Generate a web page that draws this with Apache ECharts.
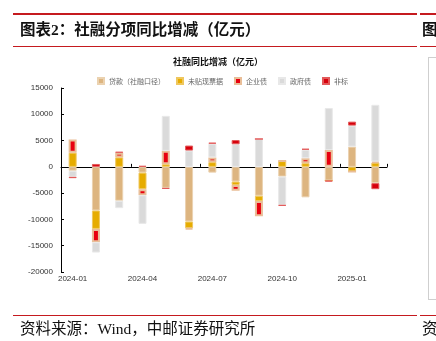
<!DOCTYPE html>
<html><head><meta charset="utf-8">
<script src="https://cdn.jsdelivr.net/npm/echarts@6/dist/echarts.min.js"></script>
<style>html,body{margin:0;padding:0;background:#fff}#c{width:436px;height:341px}</style>
</head><body><div id="c"></div>
<script>
const months = ['2024-01','2024-02','2024-03','2024-04','2024-05','2024-06','2024-07','2024-08','2024-09','2024-10','2024-11','2024-12','2025-01','2025-02'];
const seriesNames = ['贷款（社融口径）','未贴现票据','企业债','政府债','非标'];
const loans      = [-750, -8300, -6450, -1100, -4000, -10400, -1100, -2800, -5500, -1850, -5800, -2600, 3850, -3100];
const bills      = [2700, -3500, 1800, -3150, 500, -1270, 900, -650, -1000, 1100, 700, 0, -900, 800];
const corpBonds  = [2500, -2550, 900, -1150, 2550, -200, 900, -1100, -2900, 0, 950, 3200, 0, 200];
const govBonds   = [-1150, -1950, -1400, -5450, 6650, 3100, 2600, 4300, 5300, -5400, 1600, 8000, 4000, 10800];
const nonStd     = [-250, 550, 150, 200, -200, 950, 200, 800, 0, -150, 200, -200, 750, -1150];
const yTicks = {min: -20000, max: 15000, step: 5000};

const styles = [
  {color:'#DDB580', borderColor:'#EBD2B0', borderWidth:1},
  {color:'#E6AC00', borderColor:'#EFC75E', borderWidth:1},
  {color:'#E8000F', borderColor:'#E9BE98', borderWidth:2},
  {color:'#DADADA', borderColor:'#E8E8E8', borderWidth:1},
  {color:'#D7000C', borderColor:'#E25A5A', borderWidth:1}
];
const values = [loans, bills, corpBonds, govBonds, nonStd];
const red = '#C51A1F';
const cjk = '"Liberation Serif","Noto Sans CJK SC",serif';

const chart = echarts.init(document.getElementById('c'), null, {renderer:'canvas'});
chart.setOption({
  backgroundColor:'#fff',
  animation:false,
  title:{text:'社融同比增减（亿元）', left:'center', top:52, textStyle:{fontSize:9, fontWeight:'bold', color:'#111', fontFamily:'"Noto Sans CJK SC",sans-serif'}},
  legend:{left:92, top:72, itemWidth:6, itemHeight:6, itemGap:11, itemTextGap:4, icon:'rect',
    textStyle:{fontSize:7, color:'#666', fontFamily:'"Noto Sans CJK SC",sans-serif'}, data:seriesNames},
  grid:{left:61, right:49, top:88, height:184},
  xAxis:[
    {type:'category', data:months, axisLine:{onZero:true, lineStyle:{color:'#000', width:1}},
     axisTick:{show:true, inside:true, length:3, interval:function(i){return i%3===0;}, lineStyle:{color:'#000'}},
     axisLabel:{show:false}},
    {type:'category', data:months, position:'bottom', axisLine:{show:false, onZero:false}, axisTick:{show:false},
     axisLabel:{interval:2, fontSize:8, margin:3, color:'#333', fontFamily:'"Liberation Sans",Arial,sans-serif'}}
  ],
  yAxis:{type:'value', min:yTicks.min, max:yTicks.max, interval:yTicks.step,
    axisLine:{show:true, lineStyle:{color:'#000', width:1}},
    axisTick:{show:true, inside:true, length:3, lineStyle:{color:'#000'}},
    splitLine:{show:false},
    axisLabel:{fontSize:8, margin:8, color:'#333', fontFamily:'"Liberation Sans",Arial,sans-serif', formatter:function(v){return String(v);}}},
  series: seriesNames.map((n,i)=>({name:n, type:'bar', stack:'s', barWidth:8, xAxisIndex:0,
    itemStyle:styles[i], data:values[i]})),
  graphic:[
    {type:'line', shape:{x1:13,y1:14,x2:417,y2:14}, style:{stroke:red, lineWidth:2}},
    {type:'line', shape:{x1:420,y1:14,x2:436,y2:14}, style:{stroke:red, lineWidth:2}},
    {type:'line', shape:{x1:13,y1:46.5,x2:417,y2:46.5}, style:{stroke:red, lineWidth:1}},
    {type:'line', shape:{x1:420,y1:46.5,x2:436,y2:46.5}, style:{stroke:red, lineWidth:1}},
    {type:'line', shape:{x1:13,y1:315.5,x2:417,y2:315.5}, style:{stroke:red, lineWidth:1}},
    {type:'line', shape:{x1:420,y1:315.5,x2:436,y2:315.5}, style:{stroke:red, lineWidth:1}},
    {type:'text', left:20, top:23, style:{text:'图表2：社融分项同比增减（亿元）', fontSize:15.5, fontWeight:'bold', fill:'#111', fontFamily:cjk}},
    {type:'text', left:422, top:23, style:{text:'图', fontSize:15.5, fontWeight:'bold', fill:'#111', fontFamily:cjk}},
    {type:'text', left:20, top:322, style:{text:'资料来源：Wind，中邮证券研究所', fontSize:15.5, fill:'#111', fontFamily:cjk}},
    {type:'text', left:422, top:322, style:{text:'资', fontSize:15.5, fill:'#111', fontFamily:cjk}},
    {type:'line', shape:{x1:428.5,y1:57,x2:428.5,y2:300}, style:{stroke:'#CFCFCF', lineWidth:1}},
    {type:'line', shape:{x1:428,y1:57.5,x2:436,y2:57.5}, style:{stroke:'#CFCFCF', lineWidth:1}},
    {type:'line', shape:{x1:428,y1:299.5,x2:436,y2:299.5}, style:{stroke:'#CFCFCF', lineWidth:1}}
  ]
});
</script></body></html>
